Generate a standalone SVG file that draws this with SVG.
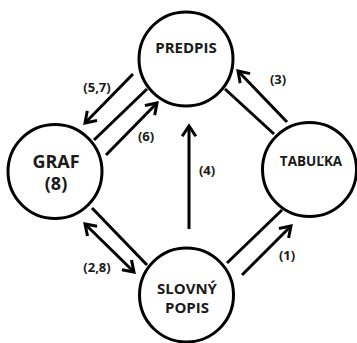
<svg xmlns="http://www.w3.org/2000/svg" width="357" height="343" viewBox="0 0 357 343">
<style>
.node circle{fill:#fff;stroke:#000;stroke-width:3}
.node text,.lbl{font-family:"Open Sans","DejaVu Sans",sans-serif;font-weight:bold;fill:#1a1a1a;text-anchor:middle}
.lbl{font-size:13px}
.edges line{stroke:#000;stroke-width:3;fill:none}
.arr{marker-end:url(#ah)}
</style>
<defs>
<marker id="ah" markerUnits="userSpaceOnUse" viewBox="0 0 12 14" markerWidth="12" markerHeight="14" refX="10" refY="7" orient="auto-start-reverse" overflow="visible">
<path d="M1,1 L10,7 L1,13" fill="none" stroke="#000" stroke-width="3" stroke-linecap="square"/>
</marker>
</defs>
<g id="edges" class="edges">
<line x1="94" y1="140" x2="147" y2="89"/>
<line class="arr" x1="133" y1="74" x2="85" y2="123"/>
<line class="arr" x1="106" y1="155" x2="157" y2="103"/>
<line x1="274" y1="134" x2="225" y2="89"/>
<line class="arr" x1="287" y1="122" x2="238" y2="71"/>
<line class="arr" x1="189" y1="229" x2="189" y2="126"/>
<line x1="92" y1="208" x2="147" y2="265"/>
<line x1="85" y1="224" x2="134" y2="272" marker-start="url(#ah)" marker-end="url(#ah)"/>
<line x1="227" y1="263" x2="282" y2="210"/>
<line class="arr" x1="242" y1="275" x2="291" y2="226"/>
</g>
<g id="labels">
<text class="lbl" x="97" y="92">(5,7)</text>
<text class="lbl" x="146" y="141">(6)</text>
<text class="lbl" x="278" y="84">(3)</text>
<text class="lbl" x="207" y="175">(4)</text>
<text class="lbl" x="97" y="272">(2,8)</text>
<text class="lbl" x="287" y="260">(1)</text>
</g>
<g id="predpis" class="node"><circle cx="186" cy="59" r="47"/><text x="186" y="53" font-size="15">PREDPIS</text></g>
<g id="graf" class="node"><circle cx="55" cy="171.5" r="47"/><text x="56" y="168" font-size="18">GRAF</text><text x="56" y="190" font-size="18">(8)</text></g>
<g id="tabulka" class="node"><circle cx="309.5" cy="169.5" r="47"/><text x="311" y="166" font-size="13.5">TABUĽKA</text></g>
<g id="slovny" class="node"><circle cx="186.5" cy="295" r="47"/><text x="187" y="294" font-size="15">SLOVNÝ</text><text x="187" y="313" font-size="15">POPIS</text></g>
</svg>
